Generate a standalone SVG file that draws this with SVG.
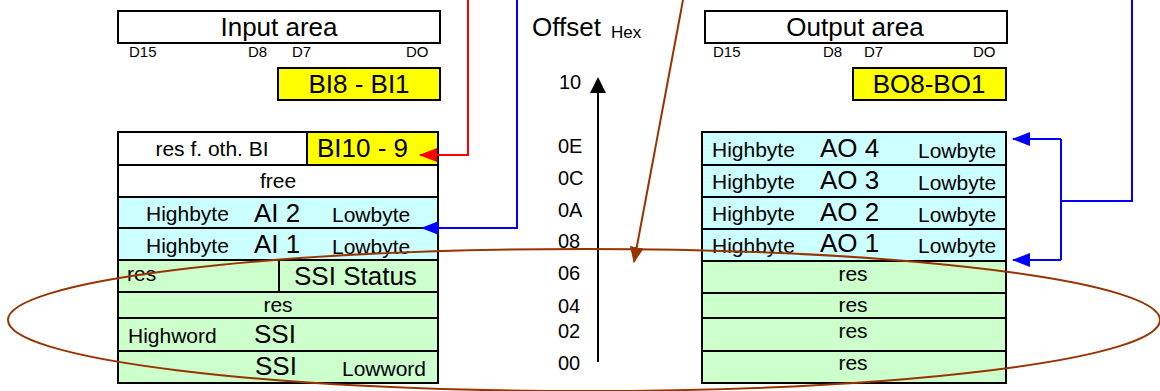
<svg xmlns="http://www.w3.org/2000/svg" width="1160" height="391" viewBox="0 0 1160 391">
<style>
text{font-family:"Liberation Sans",Arial,sans-serif;fill:#000}
.b{stroke:#000;stroke-width:2}
.w{fill:#fff}.y{fill:#ffff00}.c{fill:#ccffff}.g{fill:#ccffcc}
.t26{font-size:26px}.t21{font-size:21px}.t15{font-size:15px}.t20{font-size:20px}
.m{text-anchor:middle}
.blue{stroke:#0000ff;stroke-width:2;fill:none}
.red{stroke:#ff0000;stroke-width:2;fill:none}
.brown{stroke:#993300;stroke-width:2;fill:none}
</style>
<defs>
<marker id="ar" markerWidth="18" markerHeight="14" refX="17" refY="7" orient="auto" markerUnits="userSpaceOnUse"><path d="M0,0 L18,7 L0,14 Z" fill="#ff0000"/></marker>
<marker id="ab" markerWidth="18" markerHeight="14" refX="17" refY="7" orient="auto" markerUnits="userSpaceOnUse"><path d="M0,0 L18,7 L0,14 Z" fill="#0000ff"/></marker>
<marker id="an" markerWidth="16" markerHeight="14" refX="15" refY="7" orient="auto" markerUnits="userSpaceOnUse"><path d="M0,0 L16,7 L0,14 Z" fill="#993300"/></marker>
</defs>

<g id="input-area">
<rect class="b w" x="118" y="11" width="322" height="32"/>
<text class="t26 m" x="279" y="36">Input area</text>
<text class="t15" x="129" y="57">D15</text>
<text class="t15" x="248" y="57">D8</text>
<text class="t15" x="292" y="57">D7</text>
<text class="t15" x="406" y="57">DO</text>
</g>
<g id="bi8-bi1">
<rect class="b y" x="278" y="68" width="162" height="32"/>
<text class="t26 m" x="359" y="93">BI8 - BI1</text>
</g>

<g id="input-table">
<rect class="b w" x="118" y="132" width="320" height="33"/>
<rect class="b y" x="307" y="132" width="131" height="33"/>
<text class="t21 m" x="212" y="156">res f. oth. BI</text>
<text class="t26" x="317" y="157">BI10 - 9</text>
<rect class="b w" x="118" y="165" width="320" height="32"/>
<text class="t21 m" x="278" y="188">free</text>
<rect class="b c" x="118" y="197" width="320" height="31"/>
<text class="t21" x="146" y="221">Highbyte</text>
<text class="t26" x="254" y="222">AI 2</text>
<text class="t21" x="332" y="222">Lowbyte</text>
<rect class="b c" x="118" y="228" width="320" height="32"/>
<text class="t21" x="146" y="253">Highbyte</text>
<text class="t26" x="254" y="253">AI 1</text>
<text class="t21" x="332" y="254">Lowbyte</text>
<rect class="b g" x="118" y="260" width="320" height="32"/>
<line class="b" x1="279" y1="260" x2="279" y2="292"/>
<text class="t21" x="127" y="281">res</text>
<text class="t26" x="294" y="285">SSI Status</text>
<rect class="b g" x="118" y="292" width="320" height="26"/>
<text class="t21 m" x="278" y="312">res</text>
<rect class="b g" x="118" y="318" width="320" height="33"/>
<text class="t21" x="128" y="343">Highword</text>
<text class="t26" x="254" y="343">SSI</text>
<rect class="b g" x="118" y="351" width="320" height="32"/>
<text class="t26" x="255" y="375">SSI</text>
<text class="t21" x="342" y="376">Lowword</text>
</g>

<g id="offset-axis">
<text class="t26" x="532" y="36">Offset</text>
<text style="font-size:17px" x="611" y="38">Hex</text>
<line x1="598" y1="362" x2="598" y2="90" stroke="#000" stroke-width="2"/>
<path d="M590,93 L606,93 L598,77 Z" fill="#000"/>
<text class="t20" x="559" y="89">10</text>
<text class="t20" x="558" y="153">0E</text>
<text class="t20" x="558" y="185">0C</text>
<text class="t20" x="558" y="217">0A</text>
<text class="t20" x="558" y="248">08</text>
<text class="t20" x="558" y="280">06</text>
<text class="t20" x="558" y="313">04</text>
<text class="t20" x="558" y="338">02</text>
<text class="t20" x="558" y="370">00</text>
</g>

<g id="output-area">
<rect class="b w" x="705" y="11" width="302" height="32"/>
<text class="t26 m" x="855" y="36">Output area</text>
<text class="t15" x="713" y="57">D15</text>
<text class="t15" x="823" y="57">D8</text>
<text class="t15" x="864" y="57">D7</text>
<text class="t15" x="973" y="57">DO</text>
</g>
<g id="bo8-bo1">
<rect class="b y" x="853" y="68" width="153" height="32"/>
<text class="t26 m" x="929" y="93">BO8-BO1</text>
</g>

<g id="output-table">
<rect class="b c" x="702" y="132" width="304" height="33"/>
<text class="t21" x="712" y="157">Highbyte</text>
<text class="t26" x="820" y="157">AO 4</text>
<text class="t21" x="918" y="158">Lowbyte</text>
<rect class="b c" x="702" y="165" width="304" height="32"/>
<text class="t21" x="712" y="189">Highbyte</text>
<text class="t26" x="820" y="189">AO 3</text>
<text class="t21" x="918" y="190">Lowbyte</text>
<rect class="b c" x="702" y="197" width="304" height="32"/>
<text class="t21" x="712" y="221">Highbyte</text>
<text class="t26" x="820" y="221">AO 2</text>
<text class="t21" x="918" y="222">Lowbyte</text>
<rect class="b c" x="702" y="229" width="304" height="32"/>
<text class="t21" x="712" y="253">Highbyte</text>
<text class="t26" x="820" y="252">AO 1</text>
<text class="t21" x="918" y="253">Lowbyte</text>
<rect class="b g" x="702" y="261" width="304" height="32"/>
<text class="t21 m" x="853" y="281">res</text>
<rect class="b g" x="702" y="293" width="304" height="25"/>
<text class="t21 m" x="853" y="312">res</text>
<rect class="b g" x="702" y="318" width="304" height="33"/>
<text class="t21 m" x="853" y="338">res</text>
<rect class="b g" x="702" y="351" width="304" height="32"/>
<text class="t21 m" x="853" y="370">res</text>
</g>

<g id="connectors">
<path class="red" d="M468,0 L468,155 L420,155" marker-end="url(#ar)"/>
<path class="blue" d="M517,0 L517,228 L422,228" marker-end="url(#ab)"/>
<path class="blue" d="M1132,0 L1132,201 L1061,201"/>
<path class="blue" d="M1061,139 L1061,260"/>
<path class="blue" d="M1061,139 L1013,139" marker-end="url(#ab)"/>
<path class="blue" d="M1061,260 L1013,260" marker-end="url(#ab)"/>
<ellipse class="brown" cx="584" cy="320" rx="576" ry="71"/>
<path class="brown" d="M683,0 L634,262" marker-end="url(#an)"/>
</g>
</svg>
